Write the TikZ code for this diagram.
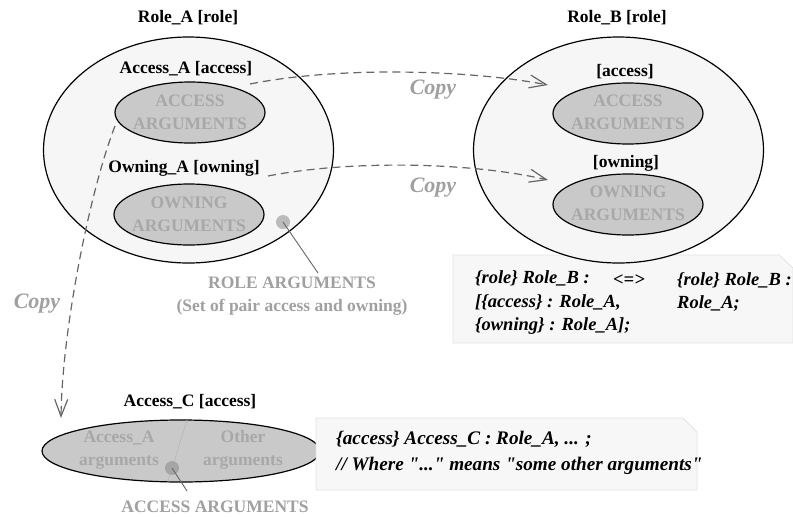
\documentclass[tikz,border=0pt]{standalone}
\usepackage{fontspec}
\setmainfont{Liberation Serif}
\newfontfamily\nomapfam{Liberation Serif}
\newcommand\strq{{\nomapfam\bfseries\itshape"}}
\usetikzlibrary{shapes.geometric,arrows.meta}
\definecolor{bigfill}{HTML}{F6F6F6}
\definecolor{innerfill}{HTML}{C9C9C9}
\definecolor{innertext}{HTML}{A8A8A8}
\definecolor{greytext}{HTML}{A0A0A0}
\definecolor{dashcol}{HTML}{666666}
\definecolor{notefill}{HTML}{F7F7F7}
\definecolor{notedraw}{HTML}{E2E2E2}
\definecolor{dotcol}{HTML}{BBBBBB}
\definecolor{dotcolC}{HTML}{A5A5A5}
\begin{document}
\begin{tikzpicture}[x=1pt,y=-1pt,
  lbl/.style={font=\fontsize{17.5}{21}\selectfont\bfseries, inner sep=0pt},
  bigell/.style={ellipse, draw=black, line width=1.2pt, fill=bigfill, minimum width=290pt, minimum height=226pt, inner sep=0pt},
  inell/.style={ellipse, draw=black, line width=1.2pt, fill=innerfill, minimum width=150pt, minimum height=61pt, inner sep=0pt},
  intxt/.style={font=\fontsize{17.5}{23}\selectfont\bfseries, text=innertext, align=center, inner sep=0pt},
  gtxt/.style={font=\fontsize{17.5}{23}\selectfont\bfseries, text=greytext, align=center, inner sep=0pt},
  copytxt/.style={font=\fontsize{22}{26}\selectfont\bfseries\itshape, text=greytext, inner sep=0pt},
  copyline/.style={draw=dashcol, line width=1.2pt, dash pattern=on 8pt off 5pt, -{Straight Barb[length=17pt,width=13pt,line width=1.2pt]}},
  dotA/.style={circle, fill=#1, inner sep=0pt, minimum size=14pt},
  pointer/.style={draw=dashcol, line width=0.9pt},
  notebox/.style={fill=notefill, draw=notedraw, line width=0.8pt},
  notetxt/.style={font=\fontsize{18.5}{23.5}\selectfont\bfseries\itshape, align=left, inner sep=0pt}
]
\useasboundingbox (0,0) rectangle (793,517);

% ---------- Note 1 (behind Role B) ----------
\draw[notebox] (453,255) -- (779,255) -- (793,268) -- (793,343) -- (453,343) -- cycle;
\node[notetxt, anchor=west] (n1a) at (475,303) {\{role\} Role\_B :\\{[}\{access\} : Role\_A,\\\{owning\} : Role\_A{]};};
\node[notetxt] (n1b) at (629,280) {<=>};
\node[notetxt, anchor=west] (n1c) at (677,292) {\{role\} Role\_B :\\Role\_A;};

% ---------- Role A ----------
\node[lbl] (roleAlbl) at (188,18) {Role\_A [role]};
\node[bigell] (roleA) at (188.5,150) {};
\node[lbl] (accAlbl) at (186,69) {Access\_A [access]};
\node[inell] (accA) at (190,112.5) {};
\node[intxt] (accAtxt) at (190,112) {ACCESS\\ARGUMENTS};
\node[lbl] (ownAlbl) at (184,168) {Owning\_A [owning]};
\node[inell] (ownA) at (189,214.5) {};
\node[intxt] (ownAtxt) at (189,214) {OWNING\\ARGUMENTS};
\node[dotA=dotcol] (dotA) at (283,222) {};
\node[gtxt] (roleArg) at (292,296) {ROLE ARGUMENTS\\(Set of pair access and owning)};
\coordinate (pA) at (318,273);
\draw[pointer] (dotA.center) -- (pA);

% ---------- Role B ----------
\node[lbl] (roleBlbl) at (617,18) {Role\_B [role]};
\node[bigell] (roleB) at (618.5,150) {};
\node[lbl] (accBlbl) at (625,72) {[access]};
\node[inell] (accB) at (628,113.5) {};
\node[intxt] (accBtxt) at (628,112) {ACCESS\\ARGUMENTS};
\node[lbl] (ownBlbl) at (626,163) {[owning]};
\node[inell] (ownB) at (628,204.5) {};
\node[intxt] (ownBtxt) at (628,203) {OWNING\\ARGUMENTS};

% ---------- Copy arrows ----------
\coordinate (c1s) at (250,84);
\coordinate (c1e) at (548,85);
\coordinate (c2s) at (268,176);
\coordinate (c2e) at (548,180);
\coordinate (c3s) at (115,126);
\draw[copyline] (c1s) .. controls (340,66) and (470,70) .. (c1e);
\draw[copyline] (c2s) .. controls (350,160) and (470,162) .. (c2e);
\node[copytxt] (copy1) at (433,90) {Copy};
\node[copytxt] (copy2) at (433,188) {Copy};

% ---------- Access C ----------
\node[lbl] (accClbl) at (190,402) {Access\_C [access]};
\node[ellipse, draw=black, line width=1.2pt, fill=innerfill, minimum width=278pt, minimum height=62pt, inner sep=0pt] (accC) at (181,451) {};
\coordinate (divT) at (187,420);
\coordinate (divB) at (168,481);
\draw[draw=innertext!80, line width=0.7pt] (divT) -- (divB);
\node[intxt] (accCa) at (119,450) {Access\_A\\arguments};
\node[intxt] (accCb) at (243,450) {Other\\arguments};
\node[dotA=dotcolC] (dotC) at (172,468) {};
\coordinate (pC) at (187,491);
\draw[pointer] (dotC.center) -- (pC);
\node[gtxt] (accArg) at (215,507) {ACCESS ARGUMENTS};

\coordinate (c3e) at (61,418);
\draw[copyline] (c3s) .. controls (90,190) and (62,330) .. (c3e);
\node[copytxt] (copy3) at (37,304) {Copy};

% ---------- Note 2 ----------
\draw[notebox] (316,418) -- (683,418) -- (697,432) -- (697,490) -- (316,490) -- cycle;
\node[notetxt, anchor=west, font=\fontsize{19.2}{26}\selectfont\bfseries\itshape] (n2) at (336,453) {\{access\} Access\_C : Role\_A, ... ;\\// Where \strq...\strq{} means \strq some other arguments\strq};
\end{tikzpicture}
\end{document}
